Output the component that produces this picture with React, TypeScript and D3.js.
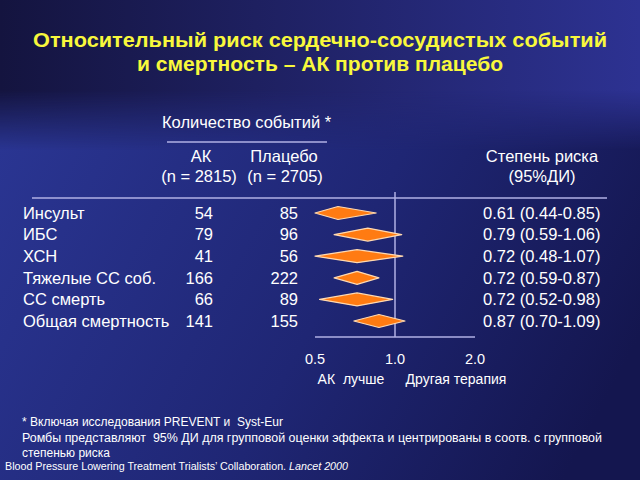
import React from "react";
import * as d3 from "d3";

const categories = ["Инсульт", "ИБС", "ХСН", "Тяжелые СС соб.", "СС смерть", "Общая смертность"];
const eventsAK = [54, 79, 41, 166, 66, 141];
const eventsPlacebo = [85, 96, 56, 222, 89, 155];
const riskRatio = [0.61, 0.79, 0.72, 0.72, 0.72, 0.87];
const ciLow = [0.44, 0.59, 0.48, 0.59, 0.52, 0.7];
const ciHigh = [0.85, 1.06, 1.07, 0.87, 0.98, 1.09];
const axisTicks = [0.5, 1.0, 2.0];

const titleLines = ["Относительный риск сердечно-сосудистых событий", "и смертность – АК против плацебо"];
const footnotes = [
  "* Включая исследования PREVENT и  Syst-Eur",
  "Ромбы представляют  95% ДИ для групповой оценки эффекта и центрированы в соотв. с групповой",
  "степенью риска",
];

const W = 640;
const H = 480;
const FONT = "'Liberation Sans', Arial, Helvetica, sans-serif";
const LINE = "#b0b0e4";
const FS = 16.5;

export default function App() {
  const x = d3.scaleLog().domain([0.5, 2]).range([315, 475]).clamp(true);
  const y = d3.scalePoint<string>().domain(categories).range([213, 321]);
  const fmt = d3.format(".2f");
  const h = 6.5;

  const diamond = (i: number) => {
    const cy = y(categories[i]) as number;
    const p = d3.path();
    p.moveTo(x(ciLow[i]), cy);
    p.lineTo(x(riskRatio[i]), cy - h);
    p.lineTo(x(ciHigh[i]), cy);
    p.lineTo(x(riskRatio[i]), cy + h);
    p.closePath();
    return p.toString();
  };

  const titleWidths = [574, 366];
  const pre = { whiteSpace: "pre" as const };

  return (
    <svg
      width={W}
      height={H}
      viewBox={`0 0 ${W} ${H}`}
      style={{ position: "fixed", left: 0, top: 0, display: "block" }}
      fontFamily={FONT}
    >
      <defs>
        <linearGradient id="bodyGrad" x1="0" y1="0.3" x2="1" y2="0.7">
          <stop offset="0" stopColor="#2a3592" />
          <stop offset="0.55" stopColor="#1f2674" />
          <stop offset="1" stopColor="#14164f" />
        </linearGradient>
        <linearGradient id="titleGrad" x1="0" y1="0" x2="1" y2="0">
          <stop offset="0" stopColor="#14143f" />
          <stop offset="1" stopColor="#2d3292" />
        </linearGradient>
        <linearGradient id="titleFade" x1="0" y1="0" x2="0" y2="1">
          <stop offset="0" stopColor="#fff" stopOpacity="1" />
          <stop offset="0.6" stopColor="#fff" stopOpacity="1" />
          <stop offset="1" stopColor="#fff" stopOpacity="0" />
        </linearGradient>
        <mask id="titleMask">
          <rect x={0} y={0} width={W} height={150} fill="url(#titleFade)" />
        </mask>
      </defs>
      <rect x={0} y={0} width={W} height={H} fill="url(#bodyGrad)" />
      <rect x={0} y={0} width={W} height={150} fill="url(#titleGrad)" mask="url(#titleMask)" />

      {/* title */}
      {titleLines.map((t, i) => (
        <text
          key={i}
          x={320}
          y={47 + i * 23.5}
          textAnchor="middle"
          fill="#f8f83c"
          fontSize={21}
          fontWeight="bold"
          textLength={titleWidths[i]}
          lengthAdjust="spacingAndGlyphs"
        >
          {t}
        </text>
      ))}

      {/* header */}
      <text x={162} y={128} fill="#fff" fontSize={FS}>Количество событий *</text>
      <line x1={167} x2={327} y1={142} y2={142} stroke={LINE} strokeWidth={1.5} />
      <text x={201} y={162} textAnchor="middle" fill="#fff" fontSize={FS}>АК</text>
      <text x={284} y={162} textAnchor="middle" fill="#fff" fontSize={FS}>Плацебо</text>
      <text x={199} y={182} textAnchor="middle" fill="#fff" fontSize={FS}>(n = 2815)</text>
      <text x={285} y={182} textAnchor="middle" fill="#fff" fontSize={FS}>(n = 2705)</text>
      <text x={542} y={162} textAnchor="middle" fill="#fff" fontSize={FS}>Степень риска</text>
      <text x={542} y={182} textAnchor="middle" fill="#fff" fontSize={FS}>(95%ДИ)</text>
      <line x1={32} x2={607} y1={198} y2={198} stroke={LINE} strokeWidth={1.5} />

      {/* reference line and axis */}
      <line x1={x(1)} x2={x(1)} y1={192} y2={337} stroke={LINE} strokeWidth={1.5} />
      <line x1={x(0.5)} x2={x(2)} y1={337} y2={337} stroke={LINE} strokeWidth={1.5} />
      {axisTicks.map((t) => (
        <text key={t} x={x(t)} y={364} textAnchor="middle" fill="#fff" fontSize={14.5}>
          {d3.format(".1f")(t)}
        </text>
      ))}
      <text x={351} y={384} textAnchor="middle" fill="#fff" fontSize={14} xmlSpace="preserve" style={pre}>{"АК  лучше"}</text>
      <text x={456} y={384} textAnchor="middle" fill="#fff" fontSize={14}>Другая терапия</text>

      {/* rows */}
      {categories.map((c, i) => {
        const cy = y(c) as number;
        return (
          <g key={c}>
            <text x={23} y={cy} dy="0.35em" fill="#fff" fontSize={FS}>{c}</text>
            <text x={213} y={cy} dy="0.35em" textAnchor="end" fill="#fff" fontSize={FS}>{eventsAK[i]}</text>
            <text x={298} y={cy} dy="0.35em" textAnchor="end" fill="#fff" fontSize={FS}>{eventsPlacebo[i]}</text>
            <path d={diamond(i)} fill="#ff7b12" stroke="#ffd9b0" strokeWidth={1.2} strokeLinejoin="round" />
            <text x={483} y={cy} dy="0.35em" fill="#fff" fontSize={FS}>
              {`${fmt(riskRatio[i])} (${fmt(ciLow[i])}-${fmt(ciHigh[i])})`}
            </text>
          </g>
        );
      })}

      {/* footnotes */}
      <text x={22} y={426} fill="#fff" fontSize={12} xmlSpace="preserve" style={pre}>{footnotes[0]}</text>
      <text x={22} y={442} fill="#fff" fontSize={12} textLength={580} lengthAdjust="spacingAndGlyphs" xmlSpace="preserve" style={pre}>{footnotes[1]}</text>
      <text x={22} y={457} fill="#fff" fontSize={12}>{footnotes[2]}</text>
      <text x={5} y={470} fill="#fff" fontSize={10.5} textLength={343} lengthAdjust="spacingAndGlyphs">
        Blood Pressure Lowering Treatment Trialists’ Collaboration. <tspan fontStyle="italic">Lancet 2000</tspan>
      </text>
    </svg>
  );
}
